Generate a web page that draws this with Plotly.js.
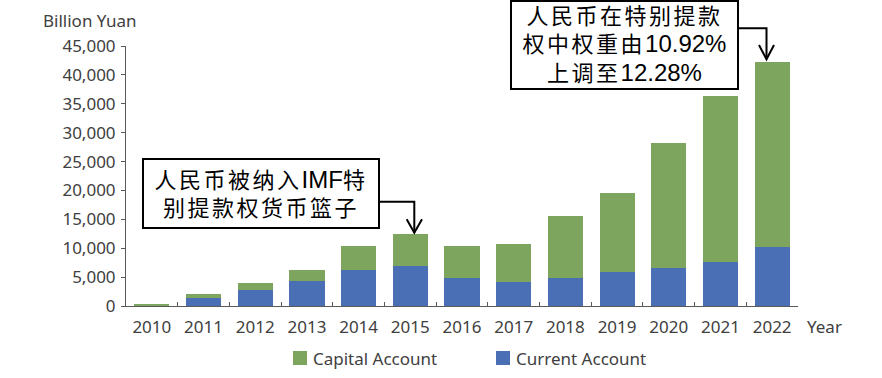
<!DOCTYPE html>
<html>
<head>
<meta charset="utf-8">
<script src="https://cdn.plot.ly/plotly-3.0.1.min.js"></script>
<style>html,body{margin:0;padding:0;background:#fff;}#chart{width:882px;height:378px;}</style>
</head>
<body>
<div id="chart"></div>
<script>
// Data (Billion Yuan)
const years = ['2010','2011','2012','2013','2014','2015','2016','2017','2018','2019','2020','2021','2022'];
const currentAccount = [30, 1350, 2750, 4300, 6300, 7000, 4800, 4200, 4800, 5800, 6500, 7600, 10250];
const capitalAccount = [320, 700, 1250, 2000, 4050, 5400, 5650, 6600, 10800, 13800, 21750, 28700, 31950];
const seriesNames = ['Current Account', 'Capital Account'];
const yTickVals = [0, 5000, 10000, 15000, 20000, 25000, 30000, 35000, 40000, 45000];
const note1Lines = ['人民币被纳入IMF特', '别提款权货币篮子'];
const note2Lines = ['人民币在特别提款', '权中权重由10.92%', '上调至12.28%'];

// styling of callout text: CJK runs letter-spaced, Latin runs slightly larger
const styleRuns = s => s.replace(/([\u4e00-\u9fff]+)|([^\u4e00-\u9fff]+)/g, (m, cjk, lat) =>
  cjk ? `<span style="letter-spacing:2.5px">${cjk}</span>` : `<span style="font-size:24px">${lat}</span>`);
const fmtNote = lines => lines.map(styleRuns).join('<br>');

// layout geometry helpers (pixel -> paper)
const W = 882, H = 378, ML = 126, MR = 84, MT = 46, MB = 72;
const PW = W - ML - MR, PH = H - MT - MB;
const X = px => (px - ML) / PW;
const Y = py => (H - MB - py) / PH;

const green = '#7ea55d';
const blue = '#4a6fb4';

const traces = [
  { type: 'bar', name: seriesNames[0], x: years, y: currentAccount, marker: { color: blue } },
  { type: 'bar', name: seriesNames[1], x: years, y: capitalAccount, marker: { color: green } }
];

const boxFont = { family: 'Liberation Sans, Noto Sans CJK SC, sans-serif', size: 22, color: '#000' };
const labelFont = { family: 'Noto Sans, sans-serif', size: 17, color: '#404040' };

const layout = {
  width: W, height: H,
  margin: { l: ML, r: MR, t: MT, b: MB, pad: 0, autoexpand: false },
  paper_bgcolor: '#fff', plot_bgcolor: '#fff',
  barmode: 'stack', bargap: 0.32,
  font: labelFont,
  showlegend: false,
  xaxis: {
    type: 'category', range: [-0.5, 12.5], showgrid: false, zeroline: false,
    showline: true, linecolor: '#595959', linewidth: 1,
    ticks: 'inside', tickson: 'boundaries', ticklen: 4, tickcolor: '#595959',
    ticklabelstandoff: 6, fixedrange: true
  },
  yaxis: {
    range: [0, 45000], tickvals: yTickVals, tickformat: ',d', showgrid: false, zeroline: false,
    showline: true, linecolor: '#595959', linewidth: 1,
    ticks: 'outside', ticklen: 4, tickcolor: '#595959', ticklabelstandoff: 2, fixedrange: true
  },
  annotations: [
    { xref: 'paper', yref: 'paper', x: X(138), y: Y(21), xanchor: 'right', yanchor: 'middle',
      text: 'Billion Yuan', showarrow: false, font: labelFont },
    { xref: 'paper', yref: 'paper', x: X(805), y: Y(326), xanchor: 'left', yanchor: 'middle',
      text: 'Year', showarrow: false, font: labelFont },
    // legend labels
    { xref: 'paper', yref: 'paper', x: X(311), y: Y(358), xanchor: 'left', yanchor: 'middle',
      text: seriesNames[1], showarrow: false, font: labelFont },
    { xref: 'paper', yref: 'paper', x: X(514), y: Y(358), xanchor: 'left', yanchor: 'middle',
      text: seriesNames[0], showarrow: false, font: labelFont },
    // callout boxes
    { xref: 'paper', yref: 'paper', x: X(261), y: Y(193.5), xanchor: 'center', yanchor: 'middle',
      text: fmtNote(note1Lines), showarrow: false, font: boxFont, align: 'center',
      width: 234, height: 67, bordercolor: '#000', borderwidth: 2, borderpad: 0, bgcolor: '#fff' },
    { xref: 'paper', yref: 'paper', x: X(624.5), y: Y(45), xanchor: 'center', yanchor: 'middle',
      text: fmtNote(note2Lines), showarrow: false, font: boxFont, align: 'center',
      width: 225, height: 86, bordercolor: '#000', borderwidth: 2, borderpad: 0, bgcolor: '#fff' }
  ],
  shapes: [
    // legend swatches
    { type: 'rect', xref: 'paper', yref: 'paper', x0: X(293), x1: X(307), y0: Y(365), y1: Y(351),
      fillcolor: green, line: { width: 0 } },
    { type: 'rect', xref: 'paper', yref: 'paper', x0: X(496), x1: X(510), y0: Y(365), y1: Y(351),
      fillcolor: blue, line: { width: 0 } },
    // arrows
    { type: 'path', xref: 'paper', yref: 'paper',
      path: `M${X(380)},${Y(201.7)} L${X(414.3)},${Y(201.7)} L${X(414.3)},${Y(232.7)}`,
      line: { color: '#000', width: 2 } },
    { type: 'path', xref: 'paper', yref: 'paper',
      path: `M${X(406.7)},${Y(219.3)} L${X(414.3)},${Y(232.7)} L${X(422)},${Y(219.3)}`,
      line: { color: '#000', width: 2 } },
    { type: 'path', xref: 'paper', yref: 'paper',
      path: `M${X(739)},${Y(28.3)} L${X(766.5)},${Y(28.3)} L${X(766.5)},${Y(59.3)}`,
      line: { color: '#000', width: 2 } },
    { type: 'path', xref: 'paper', yref: 'paper',
      path: `M${X(759)},${Y(45)} L${X(766.5)},${Y(59.3)} L${X(774)},${Y(45)}`,
      line: { color: '#000', width: 2 } }
  ]
};

Plotly.newPlot('chart', traces, layout, { displayModeBar: false, staticPlot: true });
</script>
</body>
</html>
